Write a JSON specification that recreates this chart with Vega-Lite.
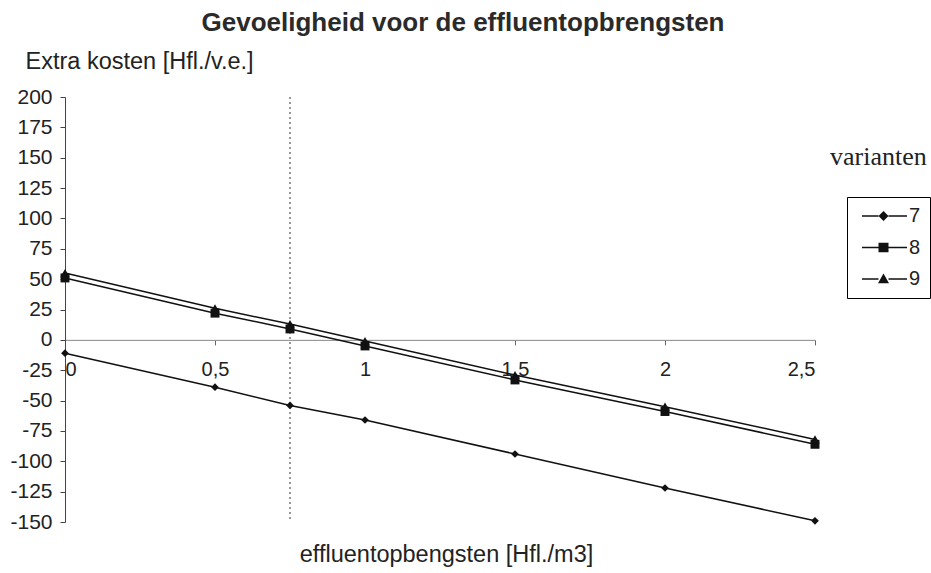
{
  "$schema": "https://vega.github.io/schema/vega-lite/v6.json",
  "autosize": "none",
  "width": 750,
  "height": 425,
  "padding": {"left": 65, "top": 97, "right": 116, "bottom": 51},
  "background": "white",
  "title": {
    "text": "Gevoeligheid voor de effluentopbrengsten",
    "frame": "group",
    "anchor": "middle",
    "dx": 23,
    "offset": 13,
    "font": "Liberation Sans",
    "fontSize": 26,
    "fontWeight": "bold",
    "color": "#2a2a2a"
  },
  "config": {
    "view": {"stroke": null},
    "axis": {"grid": false, "labelFont": "Liberation Sans", "titleFont": "Liberation Sans", "labelColor": "#222", "titleColor": "#222", "titleFontWeight": "normal", "labelOverlap": false}
  },
  "data": {
    "values": [
      {"effluent": 0, "kosten": -11, "variant": "7"},
      {"effluent": 0.5, "kosten": -39, "variant": "7"},
      {"effluent": 0.75, "kosten": -54, "variant": "7"},
      {"effluent": 1, "kosten": -66, "variant": "7"},
      {"effluent": 1.5, "kosten": -94, "variant": "7"},
      {"effluent": 2, "kosten": -122, "variant": "7"},
      {"effluent": 2.5, "kosten": -149, "variant": "7"},
      {"effluent": 0, "kosten": 51, "variant": "8"},
      {"effluent": 0.5, "kosten": 22, "variant": "8"},
      {"effluent": 0.75, "kosten": 9, "variant": "8"},
      {"effluent": 1, "kosten": -5, "variant": "8"},
      {"effluent": 1.5, "kosten": -33, "variant": "8"},
      {"effluent": 2, "kosten": -59, "variant": "8"},
      {"effluent": 2.5, "kosten": -86, "variant": "8"},
      {"effluent": 0, "kosten": 55, "variant": "9"},
      {"effluent": 0.5, "kosten": 26, "variant": "9"},
      {"effluent": 0.75, "kosten": 13, "variant": "9"},
      {"effluent": 1, "kosten": -1, "variant": "9"},
      {"effluent": 1.5, "kosten": -29, "variant": "9"},
      {"effluent": 2, "kosten": -55, "variant": "9"},
      {"effluent": 2.5, "kosten": -82, "variant": "9"}
    ]
  },
  "encoding": {
    "x": {
      "field": "effluent",
      "type": "quantitative",
      "scale": {"domain": [0, 2.5], "nice": false, "zero": false},
      "axis": {
        "values": [0, 0.5, 1, 1.5, 2, 2.5],
        "labelExpr": "replace(format(datum.value, '~g'), '.', ',')",
        "offset": -182.14,
        "domainColor": "#888",
        "tickColor": "#666",
        "tickSize": 5,
        "labelPadding": 15,
        "labelFontSize": 20,
        "title": "effluentopbengsten [Hfl./m3]",
        "titleFontSize": 23.5,
        "titleX": 381,
        "titleY": 222,
        "titleBaseline": "alphabetic"
      }
    }
  },
  "resolve": {
    "scale": {"shape": "independent", "size": "independent", "color": "independent"},
    "legend": {"shape": "independent", "color": "independent"}
  },
  "layer": [
    {
      "data": {"values": [{"effluent": 0.75}]},
      "mark": {"type": "rule", "color": "#555", "strokeDash": [2, 3], "strokeWidth": 1.2},
      "encoding": {}
    },
    {
      "layer": [
        {
          "mark": {"type": "line", "color": "#111", "strokeWidth": 1.5},
          "encoding": {
            "detail": {"field": "variant", "type": "nominal"}
          }
        },
        {
          "mark": {"type": "point", "filled": true, "color": "#111", "opacity": 1},
          "encoding": {
            "shape": {
              "field": "variant",
              "type": "nominal",
              "scale": {"domain": ["7", "8", "9"], "range": ["diamond", "square", "triangle-up"]},
              "legend": null
            },
            "size": {
              "field": "variant",
              "type": "nominal",
              "scale": {"type": "ordinal", "domain": ["7", "8", "9"], "range": [60, 80, 90]},
              "legend": null
            }
          }
        }
      ],
      "encoding": {
        "y": {
          "field": "kosten",
          "type": "quantitative",
          "scale": {"domain": [-150, 200], "nice": false, "zero": false},
          "axis": {
            "values": [-150, -125, -100, -75, -50, -25, 0, 25, 50, 75, 100, 125, 150, 175, 200],
            "labelExpr": "replace(format(datum.value, 'd'), '\u2212', '-')",
            "labelOverlap": false,
            "domainColor": "#444",
            "tickColor": "#444",
            "tickSize": 5,
            "labelPadding": 8,
            "labelFontSize": 21,
            "title": "Extra kosten [Hfl./v.e.]",
            "titleFontSize": 23.5,
            "titleAngle": 0,
            "titleAlign": "left",
            "titleBaseline": "alphabetic",
            "titleX": -40,
            "titleY": -29
          }
        }
      }
    },
    {
      "transform": [{"filter": "false"}],
      "mark": {"type": "point", "filled": true, "color": "#111", "opacity": 1},
      "encoding": {
        "x": null,
        "shape": {
          "field": "variant",
          "type": "nominal",
          "scale": {
            "domain": ["7", "8", "9"],
            "range": [
              "M-0.8,-0.13L2.5,-0.13L2.5,0.13L-0.8,0.13ZM3.5,-1L4.5,0L3.5,1L2.5,0ZM4.5,-0.13L8.2,-0.13L8.2,0.13L4.5,0.13Z",
              "M-0.8,-0.13L2.5,-0.13L2.5,0.13L-0.8,0.13ZM2.5,-0.95L4.5,-0.95L4.5,0.95L2.5,0.95ZM4.5,-0.13L8.2,-0.13L8.2,0.13L4.5,0.13Z",
              "M-0.8,-0.13L2.5,-0.13L2.5,0.13L-0.8,0.13ZM3.5,-1.1L4.6,0.85L2.4,0.85ZM4.5,-0.13L8.2,-0.13L8.2,0.13L4.5,0.13Z"
            ]
          },
          "legend": {
            "title": null,
            "orient": "none",
            "legendX": 782,
            "legendY": 100,
            "strokeColor": "#000",
            "padding": 9,
            "rowPadding": 11.5,
            "symbolSize": 100,
            "symbolFillColor": "#111",
            "symbolStrokeWidth": 0,
            "symbolOpacity": 1,
            "labelOffset": 33,
            "labelFont": "Liberation Sans",
            "labelFontSize": 20,
            "labelColor": "#222",
            "encode": {
              "legend": {"strokeWidth": {"value": 2.5}}
            }
          }
        }
      }
    },
    {
      "transform": [{"filter": "false"}],
      "mark": {"type": "point", "filled": true, "opacity": 1},
      "encoding": {
        "x": null,
        "color": {
          "field": "variant",
          "type": "nominal",
          "scale": {"domain": ["7"], "range": ["#fff"]},
          "legend": {
            "title": "varianten",
            "orient": "none",
            "legendX": 765,
            "legendY": 47,
            "padding": 0,
            "titleFont": "Liberation Serif",
            "titleFontSize": 26,
            "titleFontWeight": "normal",
            "titleColor": "#222",
            "symbolOpacity": 0,
            "labelOpacity": 0
          }
        }
      }
    }
  ]
}
